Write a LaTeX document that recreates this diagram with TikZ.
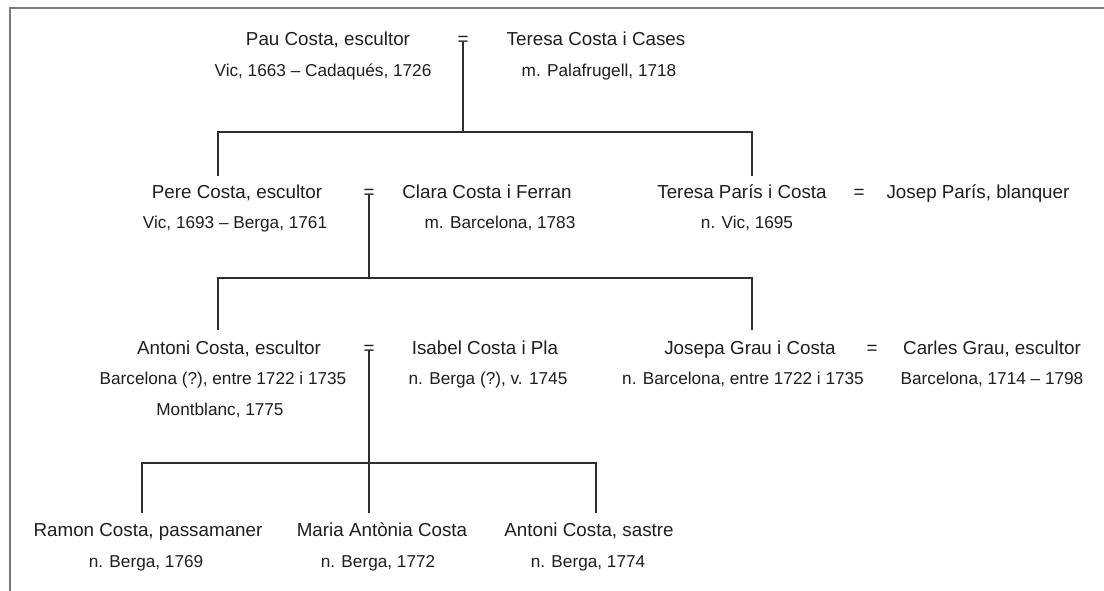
\documentclass[tikz,border=0pt]{standalone}
\usepackage{fontspec}
\setmainfont{Liberation Sans}
\usetikzlibrary{calc}
\definecolor{ink}{HTML}{1E1E1E}
\definecolor{rulecol}{HTML}{2E2E2E}
\definecolor{framecol}{HTML}{7A7A7A}
\begin{document}
\begin{tikzpicture}[x=1pt,y=-1pt,
  nm/.style={anchor=base, inner sep=0pt, text=ink, font=\fontsize{18.8}{20}\selectfont},
  dt/.style={anchor=base, inner sep=0pt, text=ink, font=\fontsize{17.2}{19}\selectfont},
  link/.style={draw=rulecol, line width=1.3pt, line join=miter},
  frameline/.style={draw=framecol, line width=1.6pt}]
\useasboundingbox (0,0) rectangle (1104,591);
\fill[white] (0,0) rectangle (1104,591);
\draw[frameline] (10,591) -- (10,8) -- (1104,8);

% Row 1
\node[nm] (p1n) at (328,46) {Pau Costa, escultor};
\node[dt] (p1d) at (323,77) {Vic, 1663 – Cadaqués, 1726};
\node[nm] (eq1) at (463,46) {=};
\node[nm] (t1n) at (596,46) {Teresa Costa i Cases};
\node[dt] (t1d) at (599,77) {m. Palafrugell, 1718};

% Row 2
\node[nm] (p2n) at (237,199) {Pere Costa, escultor};
\node[dt] (p2d) at (235,229) {Vic, 1693 – Berga, 1761};
\node[nm] (eq2) at (369,199) {=};
\node[nm] (c2n) at (487,199) {Clara Costa i Ferran};
\node[dt] (c2d) at (500,229) {m. Barcelona, 1783};
\node[nm] (tp2n) at (742,199) {Teresa París i Costa};
\node[dt] (tp2d) at (747,229) {n. Vic, 1695};
\node[nm] (eq2b) at (859,199) {=};
\node[nm] (jp2n) at (978,199) {Josep París, blanquer};

% Row 3
\node[nm] (a3n) at (229,354) {Antoni Costa, escultor};
\node[dt] (a3d) at (223,384) {Barcelona (?), entre 1722 i 1735};
\node[dt] (a3e) at (220,415) {Montblanc, 1775};
\node[nm] (eq3) at (369,354) {=};
\node[nm] (i3n) at (485,354) {Isabel Costa i Pla};
\node[dt] (i3d) at (488,384) {n. Berga (?), v. 1745};
\node[nm] (jg3n) at (750,354) {Josepa Grau i Costa};
\node[dt] (jg3d) at (743,384) {n. Barcelona, entre 1722 i 1735};
\node[nm] (eq3b) at (872,354) {=};
\node[nm] (cg3n) at (992,354) {Carles Grau, escultor};
\node[dt] (cg3d) at (992,384) {Barcelona, 1714 – 1798};

% Row 4
\node[nm] (r4n) at (148,536) {Ramon Costa, passamaner};
\node[dt] (r4d) at (146,567) {n. Berga, 1769};
\node[nm] (m4n) at (382,536) {Maria Antònia Costa};
\node[dt] (m4d) at (378,567) {n. Berga, 1772};
\node[nm] (s4n) at (589,536) {Antoni Costa, sastre};
\node[dt] (s4d) at (588,567) {n. Berga, 1774};

% junction coordinates
\coordinate (j1) at (463,132);
\coordinate (h1l) at (218,132);
\coordinate (h1r) at (752,132);
\coordinate (d1l) at (218,176);
\coordinate (d1r) at (752,176);
\coordinate (j2) at (369,278);
\coordinate (h2l) at (218,278);
\coordinate (h2r) at (752,278);
\coordinate (d2l) at (218,330);
\coordinate (d2r) at (752,330);
\coordinate (h3l) at (142,463);
\coordinate (h3r) at (596,463);
\coordinate (d3l) at (142,513);
\coordinate (d3m) at (369,513);
\coordinate (d3r) at (596,513);

% connectors
\draw[link] ($(eq1.base)+(0,-4)$) -- (j1);
\draw[link] (d1l) -- (h1l) -- (h1r) -- (d1r);
\draw[link] ($(eq2.base)+(0,-4)$) -- (j2);
\draw[link] (d2l) -- (h2l) -- (h2r) -- (d2r);
\draw[link] ($(eq3.base)+(0,-4)$) -- (d3m);
\draw[link] (d3l) -- (h3l) -- (h3r) -- (d3r);
\end{tikzpicture}
\end{document}
